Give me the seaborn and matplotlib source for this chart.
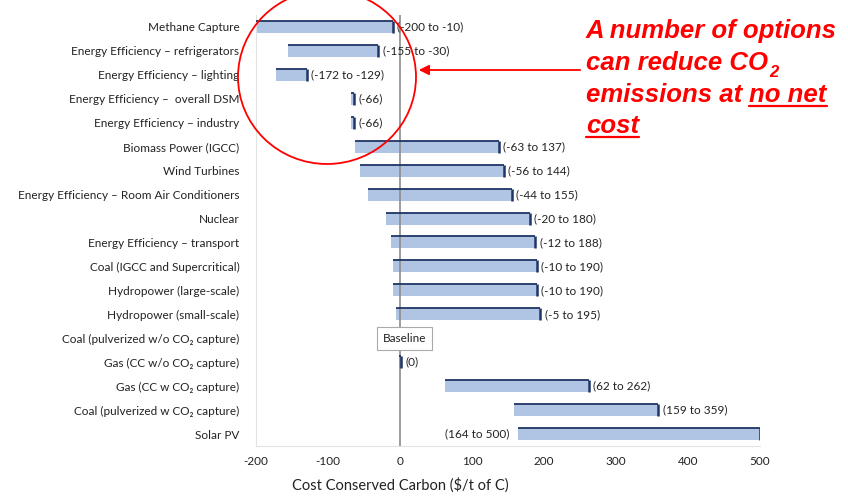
import matplotlib
matplotlib.use("Agg")
import matplotlib.pyplot as plt
from matplotlib.patches import Ellipse, FancyArrowPatch
from matplotlib.lines import Line2D
import numpy as np
import pandas as pd
import seaborn as sns

# Mitigation options and their cost ranges ($/t of C)
options = [
    "Methane Capture",
    "Energy Efficiency – refrigerators",
    "Energy Efficiency – lighting",
    "Energy Efficiency –  overall DSM",
    "Energy Efficiency – industry",
    "Biomass Power (IGCC)",
    "Wind Turbines",
    "Energy Efficiency – Room Air Conditioners",
    "Nuclear",
    "Energy Efficiency – transport",
    "Coal (IGCC and Supercritical)",
    "Hydropower (large-scale)",
    "Hydropower (small-scale)",
    "Coal (pulverized w/o CO\u2082 capture)",
    "Gas (CC w/o CO\u2082 capture)",
    "Gas (CC w CO\u2082 capture)",
    "Coal (pulverized w CO\u2082 capture)",
    "Solar PV",
]
cost_low = [-200, -155, -172, -66, -66, -63, -56, -44, -20, -12, -10, -10, -5,
            np.nan, 0, 62, 159, 164]
cost_high = [-10, -30, -129, -66, -66, 137, 144, 155, 180, 188, 190, 190, 195,
             np.nan, 0, 262, 359, 500]
range_labels = ["(-200 to -10)", "(-155 to -30)", "(-172 to -129)", "(-66)", "(-66)",
                "(-63 to 137)", "(-56 to 144)", "(-44 to 155)", "(-20 to 180)",
                "(-12 to 188)", "(-10 to 190)", "(-10 to 190)", "(-5 to 195)",
                "", "(0)", "(62 to 262)", "(159 to 359)", "(164 to 500)"]
label_left_of_bar = [False] * 17 + [True]
baseline_option = "Coal (pulverized w/o CO\u2082 capture)"
x_ticks = [-200, -100, 0, 100, 200, 300, 400, 500]

FILL = "#b0c4e3"
EDGE = "#1f3565"
RED = "#ff0000"
W, H = 848, 496

sns.set_theme(style="white")
plt.rcParams["font.family"] = ["Lato", "DejaVu Sans"]
plt.rcParams["axes.unicode_minus"] = False

fig = plt.figure(figsize=(W / 100, H / 100), dpi=100)
ax = fig.add_axes([256 / W, 1 - 446 / H, 504 / W, 431 / H])

df = pd.DataFrame({"option": options, "low": cost_low, "high": cost_high})
span = (df["high"] - df["low"]).to_numpy()
low = df["low"].to_numpy()
# single-value options are shown as a thin sliver centred on the value
sliver = 4.0
bar_left = np.where(span == 0, low - sliver / 2, low)
bar_width = np.where(span == 0, sliver, span)
bar_left = np.nan_to_num(bar_left)
bar_width = np.nan_to_num(bar_width)
df["width"] = bar_width

bar_h = 0.5
sns.barplot(data=df, x="width", y="option", orient="y", color=FILL,
            saturation=1, width=bar_h, linewidth=0, ax=ax)
for patch, left in zip(ax.patches, bar_left):
    patch.set_x(left)

ys = np.arange(len(options))
drawn = bar_width > 0
ax.hlines(ys[drawn] - bar_h / 2, bar_left[drawn], bar_left[drawn] + bar_width[drawn],
          color=EDGE, lw=1.3, zorder=3)
ax.vlines(bar_left[drawn] + bar_width[drawn], ys[drawn] - bar_h / 2, ys[drawn] + bar_h / 2,
          color=EDGE, lw=1.8, zorder=3)

# zero-cost reference line
ax.axvline(0, color="#8c8c8c", lw=1.2, zorder=1)

for y, text, lo, hi, on_left in zip(ys, range_labels, cost_low, cost_high, label_left_of_bar):
    if not text:
        continue
    if on_left:
        ax.annotate(text, (lo, y), xytext=(-6, 0), textcoords="offset points",
                    ha="right", va="center", fontsize=8.5, color="#222222")
    else:
        ax.annotate(text, (hi + sliver / 2 if hi == lo else hi, y),
                    xytext=(3, 0), textcoords="offset points",
                    ha="left", va="center", fontsize=8.5, color="#222222")

ax.annotate("Baseline", (0, options.index(baseline_option)), xytext=(3, 0),
            textcoords="offset points", ha="center", va="center", fontsize=8.5,
            color="#222222", zorder=5,
            bbox=dict(boxstyle="square,pad=0.5", fc="white", ec="#aaaaaa", lw=0.8))

ax.set_xlim(-200, 500)
ax.set_ylim(len(options) - 0.5, -0.5)
ax.set_xticks(x_ticks)
ax.set_xticklabels([str(t) for t in x_ticks])
ax.set_ylabel("")
ax.set_xlabel("Cost Conserved Carbon (\\$/t of C)", fontsize=10.5, color="#222222")
ax.xaxis.set_label_coords(200 / 700, -0.074)
ax.tick_params(axis="x", labelsize=8.5, colors="#222222", length=0, pad=7)
ax.tick_params(axis="y", labelsize=8.5, colors="#222222", length=0, pad=12)
for side in ["top", "right"]:
    ax.spines[side].set_visible(False)
for side in ["left", "bottom"]:
    ax.spines[side].set_color("#e2e2e2")
    ax.spines[side].set_linewidth(0.8)

# red call-out: circle around the negative-cost options, arrow and message
def fx(px):
    return px / W

def fy(py):
    return 1 - py / H

fig.add_artist(Ellipse((fx(327), fy(77)), 178 / W, 174 / H, transform=fig.transFigure,
                       fill=False, ec=RED, lw=1.3))
fig.add_artist(FancyArrowPatch(
    (fx(583), fy(70)), (fx(416), fy(70)), transform=fig.transFigure,
    arrowstyle="-|>,head_length=6,head_width=3", color=RED, lw=1.3))

red = dict(family=["Liberation Sans", "DejaVu Sans"], weight="bold", style="italic",
           color=RED, fontsize=18.5, va="baseline", ha="left")
x0 = 586
fig.text(fx(x0), fy(38), "A number of options", **red)
t_co = fig.text(fx(x0), fy(70), "can reduce CO", **red)
t_em = fig.text(fx(x0), fy(102), "emissions at", **red)
t_cost = fig.text(fx(x0), fy(133), "cost", **red)

fig.canvas.draw()
renderer = fig.canvas.get_renderer()
inv = fig.transFigure.inverted()

ext = t_co.get_window_extent(renderer)
sub = dict(red)
sub["fontsize"] = 12
fig.text(inv.transform((ext.x1 + 1, 0))[0], fy(77), "2", **sub)

ext = t_em.get_window_extent(renderer)
space_px = 0.278 * 18.5 * 100 / 72
t_nn = fig.text(inv.transform((ext.x1 + space_px, 0))[0], fy(102), "no net", **red)
fig.canvas.draw()

for t, base in [(t_nn, 102), (t_cost, 133)]:
    e = t.get_window_extent(renderer)
    xa = inv.transform((e.x0, 0))[0]
    xb = inv.transform((e.x1, 0))[0]
    fig.add_artist(Line2D([xa, xb], [fy(base + 4), fy(base + 4)],
                          transform=fig.transFigure, color=RED, lw=1.6))

fig.savefig("out.png", dpi=100)
